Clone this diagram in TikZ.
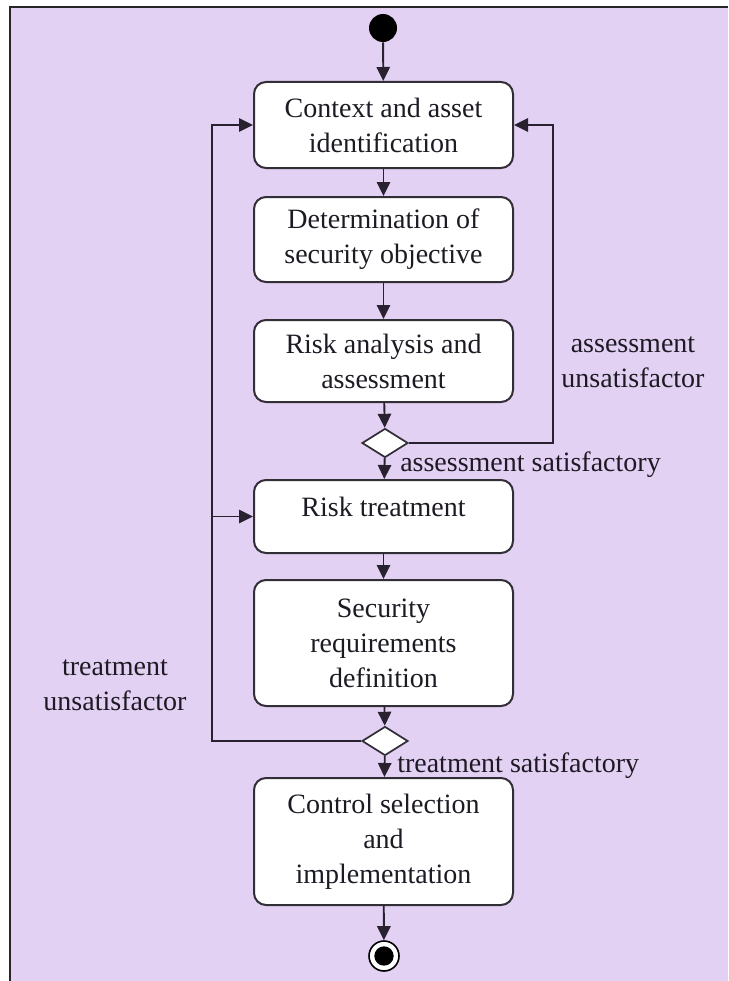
\documentclass[tikz,border=0pt]{standalone}
\usepackage{fontspec}
\setmainfont{LiberationSerif}[Extension=.ttf, UprightFont=*-Regular, BoldFont=*-Bold, ItalicFont=*-Italic, BoldItalicFont=*-BoldItalic]
\usetikzlibrary{arrows.meta,shapes.geometric}
\definecolor{bgpurple}{RGB}{227,209,243}
\definecolor{boxline}{RGB}{50,46,54}
\definecolor{flowline}{RGB}{40,34,48}
\definecolor{inktext}{RGB}{30,26,36}
\begin{document}
\begin{tikzpicture}[x=0.75pt,y=-0.75pt,
  stepbox/.style={draw=boxline, line width=1.5pt, fill=white, rounded corners=9pt,
    minimum width=194.25pt, align=center, inner sep=0pt, text=inktext,
    font=\fontsize{21}{26.25}\selectfont},
  note/.style={align=center, inner sep=0pt, text=inktext,
    font=\fontsize{21}{26.25}\selectfont},
  choice/.style={diamond, draw=boxline, line width=1.3pt, fill=white, inner sep=0pt,
    minimum width=34.5pt, minimum height=21.75pt},
  flow/.style={draw=flowline, line width=1.4pt, -{Triangle[length=10.5pt,width=10pt]}}]

% page, lavender panel and its top/left frame
\useasboundingbox (0,0) rectangle (728,981);
\fill[white] (0,0) rectangle (728,981);
\fill[bgpurple] (10,7) rectangle (728,981);
\draw[black!85, line width=1.5pt] (10,981) -- (10,7) -- (728,7);

% initial state
\node[circle, fill=black, minimum size=21pt, inner sep=0pt] (start) at (383,28) {};

% activities
\node[stepbox, minimum height=64.5pt]  (ctx)    at (383.5,125)   {Context and asset\\identification};
\node[stepbox, minimum height=63.75pt] (det)    at (383.5,239.5) {Determination of\\security objective};
\node[stepbox, minimum height=61.5pt]  (risk)   at (383.5,361)   {Risk analysis and\\assessment};
\node[choice] (d1) at (385,443) {};
\node[stepbox, minimum height=54.75pt, text depth=14pt] (treat) at (383.5,516.5) {Risk treatment};
\node[stepbox, minimum height=94.5pt]  (secreq) at (383.5,643)   {Security\\requirements\\definition};
\node[choice] (d2) at (385,741) {};
\node[stepbox, minimum height=95.25pt] (ctrl)   at (383.5,841.5) {Control selection\\and\\implementation};

% final state
\node[circle, draw=black, line width=1.2pt, fill=white, minimum size=22.5pt, inner sep=0pt] (finish) at (384,956) {};
\node[circle, fill=black, minimum size=14.5pt, inner sep=0pt] (finishdot) at (finish.center) {};

% rails of the two feedback loops
\coordinate (lrail) at (212,0);
\coordinate (rrail) at (553,0);

% main flow
\draw[flow] (start) -- (ctx);
\draw[flow] (ctx) -- (det);
\draw[flow] (det) -- (risk);
\draw[flow] (risk) -- (d1);
\draw[flow] (d1) -- (treat);
\draw[flow] (treat) -- (secreq);
\draw[flow] (secreq) -- (d2);
\draw[flow] (d2) -- (ctrl);
\draw[flow] (ctrl) -- (finish);

% feedback loops
\draw[flow] (d1.east) -- (d1.east -| rrail) |- (ctx.east);
\draw[flow] (d2.west) -- (d2.west -| lrail) |- (ctx.west);
\draw[flow] (treat.west -| lrail) -- (treat.west);

% guard labels
\node[note] (lblau) at (633,362) {assessment\\unsatisfactor};
\node[note, anchor=base west] (lblas) at (400,471) {assessment satisfactory};
\node[note] (lbltu) at (115,685) {treatment\\unsatisfactor};
\node[note, anchor=base west] (lblts) at (397,772) {treatment satisfactory};
\end{tikzpicture}
\end{document}
